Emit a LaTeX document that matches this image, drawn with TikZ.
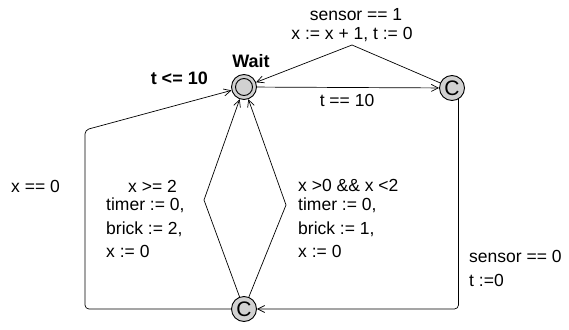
\documentclass[tikz,border=0pt]{standalone}
\usepackage{fontspec}
\setmainfont{Liberation Sans}
\usetikzlibrary{arrows.meta}
\begin{document}
\begin{tikzpicture}[x=1pt,y=-1pt,
  lbl/.style={inner sep=0pt,font=\fontsize{17.5}{23.5}\selectfont},
  blbl/.style={inner sep=0pt,font=\fontsize{18}{23}\selectfont\bfseries},
  loc/.style={circle,draw,fill=black!18,minimum size=25pt,inner sep=0pt,line width=0.9pt,font=\fontsize{21}{21}\selectfont},
  edge/.style={draw,line width=0.7pt,-{Straight Barb[length=7pt,width=7pt]},rounded corners=4pt}]
\useasboundingbox (0,0) rectangle (569,329);
\node[loc] (W) at (244,87) {};
\draw[line width=0.9pt] (W.center) circle (8.5pt);
\node[loc] (C1) at (452,88) {C};
\node[loc] (C2) at (244,309) {C};
\coordinate (top) at (352,45);
\coordinate (dl) at (204,200);
\coordinate (dr) at (286,205);
\coordinate (ol1) at (85,309);
\coordinate (ol2) at (85,130);
% edges
\draw[edge] (W) -- (C1);
\draw[edge,rounded corners=0pt] (C1) -- (top) -- (W);
\draw[edge] (C1.-60) -- (C1.-60 |- C2) -- (C2);
\draw[edge,rounded corners=0pt] (C2) -- (dl) -- (W);
\draw[edge,rounded corners=0pt] (C2) -- (dr) -- (W);
\draw[edge] (C2) -- (ol1) -- (ol2) -- (W);
% labels
\node[lbl] (s1) at (356,15) {sensor == 1};
\node[lbl] (a1) at (352,35) {x := x + 1, t := 0};
\node[lbl] (g2) at (347,100) {t == 10};
\node[blbl] (wn) at (251,61) {Wait};
\node[blbl,anchor=east] (inv) at (208,78) {t <= 10};
\node[lbl,anchor=west] (g6) at (11,186) {x == 0};
\node[lbl,anchor=west] (g4) at (128,186) {x >= 2};
\node[lbl,anchor=north west,align=left] (a4) at (106,198) {timer := 0,\\brick := 2,\\x := 0};
\node[lbl,anchor=west] (g5) at (298,185) {x >0 \&\& x <2};
\node[lbl,anchor=north west,align=left] (a5) at (298,198) {timer := 0,\\brick := 1,\\x := 0};
\node[lbl,anchor=west] (g3) at (469,256) {sensor == 0};
\node[lbl,anchor=west] (a3) at (469,280) {t :=0};
\end{tikzpicture}
\end{document}
